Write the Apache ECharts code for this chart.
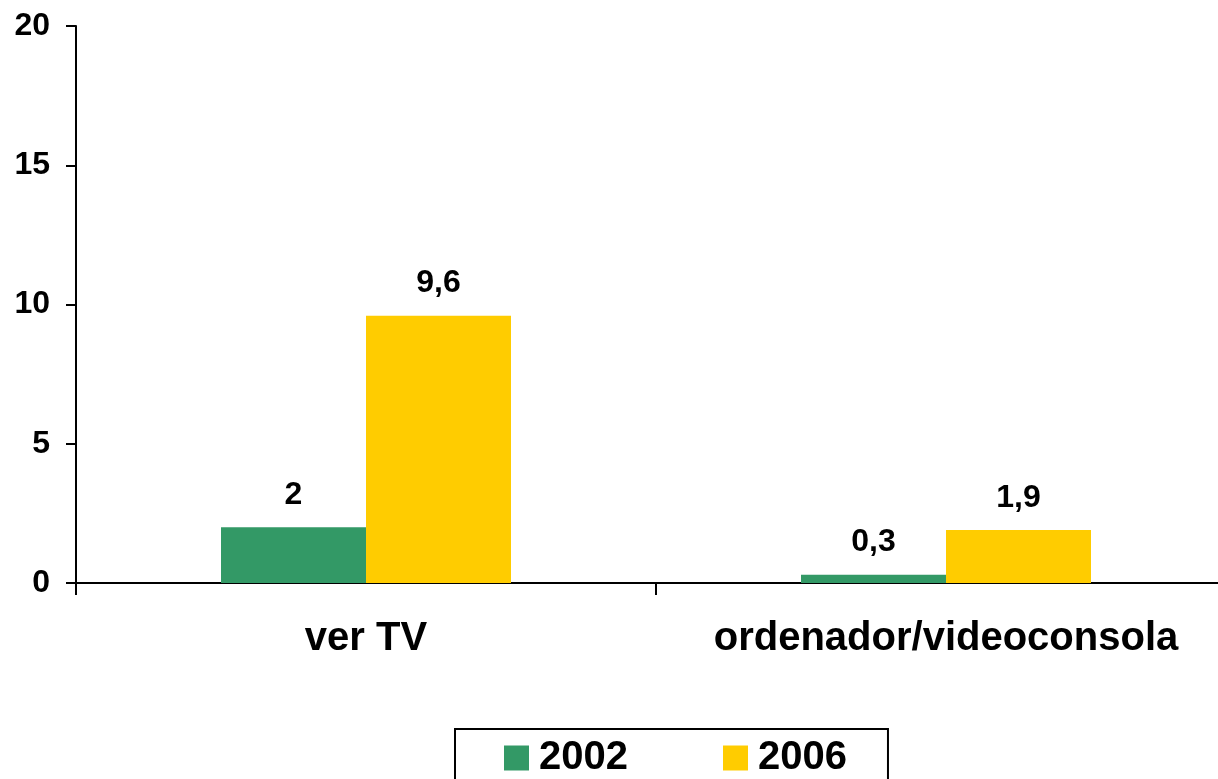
<!DOCTYPE html>
<html>
<head>
<meta charset="utf-8">
<script src="https://cdn.jsdelivr.net/npm/echarts@6/dist/echarts.min.js"></script>
<style>
  html, body { margin: 0; padding: 0; background: #fff; overflow: hidden; }
  #chart { width: 1218px; height: 779px; }
</style>
</head>
<body>
<div id="chart"></div>
<script>
var categories = ['ver TV', 'ordenador/videoconsola']
var seriesNames = ['2002', '2006']
var values2002 = [2, 0.3]
var values2006 = [9.6, 1.9]
var yTicks = [0, 5, 10, 15, 20]

var font = '"Liberation Sans", Arial, sans-serif'

function commaLabel(p) {
  return String(p.value).replace('.', ',')
}

var myChart = echarts.init(document.getElementById('chart'))
var option = {
  animation: false,
  backgroundColor: '#fff',
  textStyle: { fontFamily: font, fontWeight: 'bold', color: '#000' },
  grid: { left: 76, top: 26, width: 1160, bottom: 196, outerBoundsMode: 'none', containLabel: false },
  legend: {
    left: 455,
    top: 729,
    padding: [9, 41, 9, 49],
    itemGap: 95,
    itemWidth: 25,
    itemHeight: 25,
    icon: 'rect',
    borderColor: '#000',
    borderWidth: 2,
    textStyle: { fontFamily: font, fontWeight: 'bold', fontSize: 40, color: '#000', padding: [0, 0, 0, 5] },
    data: seriesNames
  },
  xAxis: {
    type: 'category',
    data: categories,
    axisLine: { lineStyle: { color: '#000', width: 2 } },
    axisTick: { show: true, interval: 0, length: 12, lineStyle: { color: '#000', width: 2 } },
    axisLabel: { interval: 0, margin: 36, fontFamily: font, fontWeight: 'bold', fontSize: 40, color: '#000' }
  },
  yAxis: {
    type: 'value',
    min: yTicks[0],
    max: yTicks[yTicks.length - 1],
    interval: yTicks[1] - yTicks[0],
    splitLine: { show: false },
    axisLine: { show: true, lineStyle: { color: '#000', width: 2 } },
    axisTick: { show: true, length: 10, lineStyle: { color: '#000', width: 2 } },
    axisLabel: { margin: 26, fontFamily: font, fontWeight: 'bold', fontSize: 32, color: '#000' }
  },
  series: [
    {
      name: seriesNames[0],
      type: 'bar',
      data: values2002,
      barGap: 0,
      barCategoryGap: '50%',
      itemStyle: { color: '#339966' },
      label: { show: true, position: 'top', distance: 16, formatter: commaLabel, fontFamily: font, fontWeight: 'bold', fontSize: 32, color: '#000' }
    },
    {
      name: seriesNames[1],
      type: 'bar',
      data: values2006,
      barGap: 0,
      barCategoryGap: '50%',
      itemStyle: { color: '#FFCC00' },
      label: { show: true, position: 'top', distance: 16, formatter: commaLabel, fontFamily: font, fontWeight: 'bold', fontSize: 32, color: '#000' }
    }
  ]
}
myChart.setOption(option)
</script>
</body>
</html>
